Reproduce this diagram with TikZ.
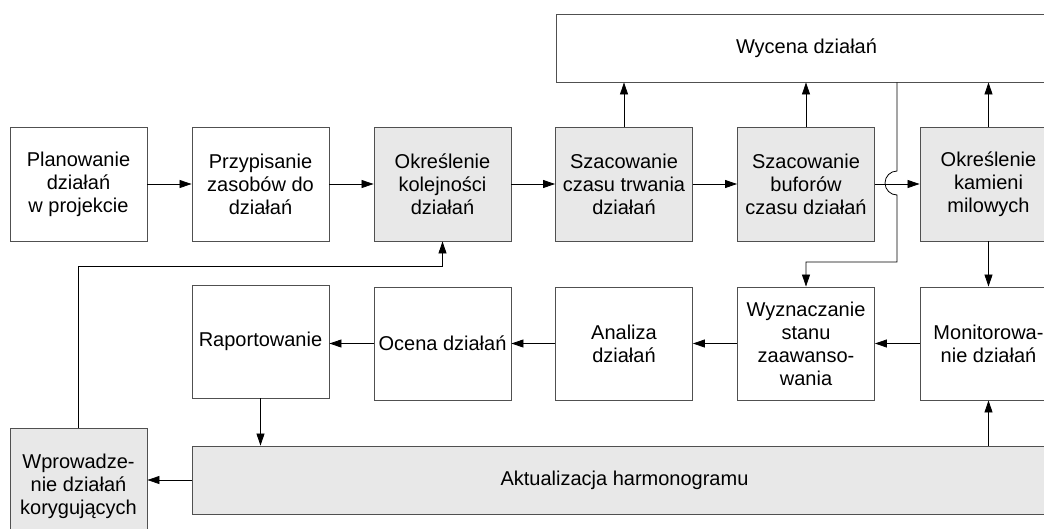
\documentclass[tikz,border=0pt]{standalone}
\usepackage{fontspec}
\setmainfont{Liberation Sans}
\usetikzlibrary{arrows.meta,calc}
\definecolor{boxgray}{HTML}{E8E8E8}
\definecolor{edgegray}{HTML}{505050}
\begin{document}
\begin{tikzpicture}[x=1pt,y=-1pt,
  box/.style={draw=edgegray,line width=0.9pt,fill=white,rectangle,minimum width=137pt,minimum height=114pt,inner sep=2pt,align=center,font=\fontsize{20}{23}\selectfont},
  gbox/.style={box,fill=boxgray},
  arr/.style={draw=black,line width=0.8pt,-{Triangle[length=12pt,width=8pt]}},
  conn/.style={draw=black,line width=0.8pt}]
\clip (0,0) rectangle (1044,528);
\fill[white] (0,0) rectangle (1044,528);
% row 1
\node[box]  (plan) at (78.5,184) {Planowanie\\działań\\w projekcie};
\node[box]  (przy) at (260.5,184) {Przypisanie\\zasobów do\\działań};
\node[gbox] (okr)  at (442.5,184) {Określenie\\kolejności\\działań};
\node[gbox] (szc)  at (624,184) {Szacowanie\\czasu trwania\\działań};
\node[gbox] (szb)  at (806,184) {Szacowanie\\buforów\\czasu działań};
\node[gbox] (kam)  at (988.5,184) {Określenie\\kamieni\\milowych};
% top
\node[box,minimum width=501pt,minimum height=68pt] (wyc) at (806.5,48) {Wycena działań};
% row 2
\node[box,minimum height=113pt] (rap) at (260.5,341.5) {Raportowanie};
\node[box,minimum height=113pt] (oce) at (442.5,343.5) {Ocena działań};
\node[box,minimum height=113pt] (ana) at (624,343.5) {Analiza\\działań};
\node[box,minimum height=113pt] (wyz) at (806,343.5) {Wyznaczanie\\stanu\\zaawanso-\\wania};
\node[box,minimum height=113pt] (mon) at (988.5,343.5) {Monitorowa-\\nie działań};
% bottom
\node[gbox,minimum width=865pt,minimum height=68pt] (akt) at (624.5,480) {Aktualizacja harmonogramu};
\node[gbox,minimum height=117pt] (wpr) at (78.5,486.5) {Wprowadze-\\nie działań\\korygujących};
% row 1 arrows
\draw[arr] (plan.east) -- (przy.west);
\draw[arr] (przy.east) -- (okr.west);
\draw[arr] (okr.east) -- (szc.west);
\draw[arr] (szc.east) -- (szb.west);
\draw[arr] (szb.east) -- (kam.west);
% up to Wycena
\draw[arr] (szc.north) -- (szc.north |- wyc.south);
\draw[arr] (szb.north) -- (szb.north |- wyc.south);
\draw[arr] (kam.north) -- (kam.north |- wyc.south);
% Wycena down with hop
\coordinate (hopc) at (897,183);
\coordinate (turn) at (897,262);
\draw[arr] (wyc.south -| hopc) -- ($(hopc)+(0,-12)$) arc[start angle=270,end angle=90,radius=12] -- (turn) -| (wyz.north);
% kamieni to monitorowanie
\draw[arr] (kam.south) -- (mon.north);
% row 2 arrows
\draw[arr] (mon.west) -- (wyz.east);
\draw[arr] (wyz.west) -- (ana.east);
\draw[arr] (ana.west) -- (oce.east);
\draw[arr] (oce.west) -- (oce.west -| rap.east);
% bottom
\draw[arr] (rap.south) -- (rap.south |- akt.north);
\draw[arr] (akt.north -| mon.south) -- (mon.south);
\draw[arr] (akt.west) -- (akt.west -| wpr.east);
% feedback
\coordinate (fb) at (78.5,266);
\draw[arr] (wpr.north) -- (fb) -| (okr.south);
\end{tikzpicture}
\end{document}
